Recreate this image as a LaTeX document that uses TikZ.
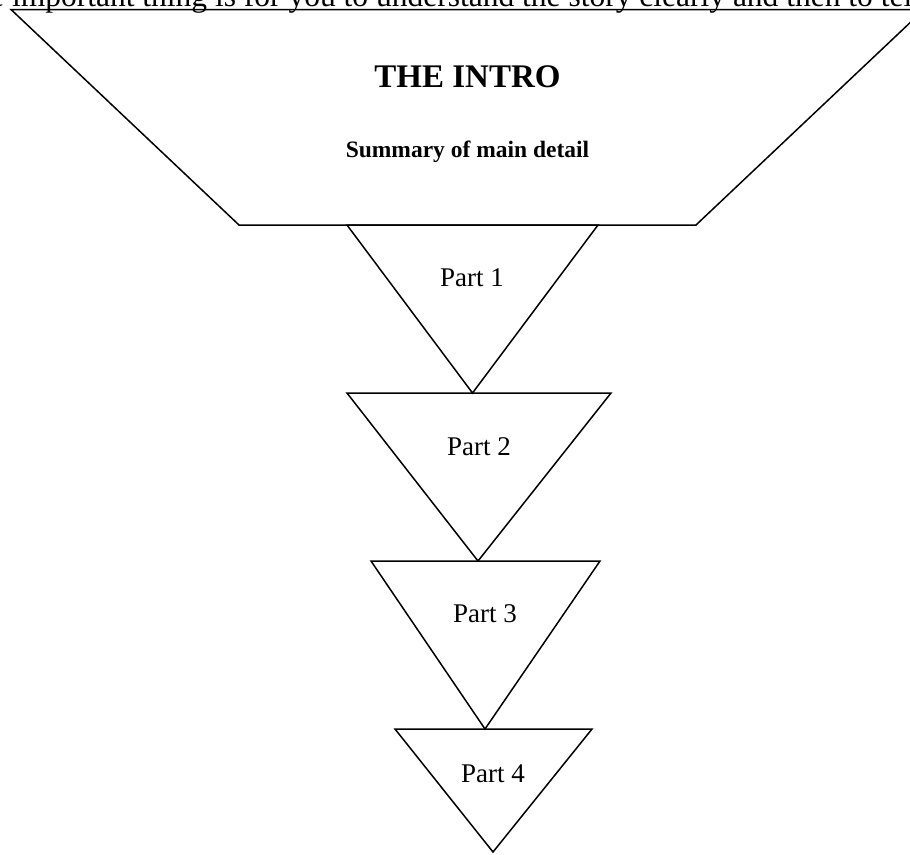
\documentclass[tikz,border=0pt]{standalone}
\usepackage{fontspec}
\setmainfont{Liberation Serif}
\tikzset{
  shapeline/.style={draw=black, line width=1.5pt, line join=miter},
  lbl/.style={anchor=base, inner sep=0pt, font=\fontsize{27}{30}\selectfont},
  headlbl/.style={anchor=base, inner sep=0pt, font=\bfseries\fontsize{33}{36}\selectfont},
  sublbl/.style={anchor=base, inner sep=0pt, font=\bfseries\fontsize{23.5}{27}\selectfont},
  toptext/.style={anchor=base west, inner sep=0pt, font=\fontsize{31.5}{34}\selectfont}
}
\begin{document}
\begin{tikzpicture}[x=1pt,y=-1pt]
\useasboundingbox (0,0) rectangle (910,854);
\clip (0,0) rectangle (910,854);
% clipped running text at the very top
\node[toptext] (top) at (-10,6.5) {e important thing is for you to understand the story clearly and then to tell};
% funnel top (trapezoid)
\coordinate (a1) at (11,9.5);
\coordinate (a2) at (924,9.5);
\coordinate (a3) at (696,225);
\coordinate (a4) at (239,225);
\draw[shapeline] (a1) -- (a2) -- (a3) -- (a4) -- cycle;
% triangles
\coordinate (t1l) at (347,225); \coordinate (t1r) at (598,225); \coordinate (t1b) at (472.5,393);
\coordinate (t2l) at (347,393); \coordinate (t2r) at (611,393); \coordinate (t2b) at (478,561);
\coordinate (t3l) at (371,561); \coordinate (t3r) at (600,561); \coordinate (t3b) at (485,729);
\coordinate (t4l) at (395,729); \coordinate (t4r) at (592,729); \coordinate (t4b) at (493,852);
\draw[shapeline] (t1l) -- (t1r) -- (t1b) -- cycle;
\draw[shapeline] (t2l) -- (t2r) -- (t2b) -- cycle;
\draw[shapeline] (t3l) -- (t3r) -- (t3b) -- cycle;
\draw[shapeline] (t4l) -- (t4r) -- (t4b) -- cycle;
% labels
\node[headlbl] (intro) at (467.5,87.5) {THE INTRO};
\node[sublbl] (summary) at (467.5,157) {Summary of main detail};
\node[lbl] (p1) at (472,286) {Part 1};
\node[lbl] (p2) at (479,455) {Part 2};
\node[lbl] (p3) at (485,622) {Part 3};
\node[lbl] (p4) at (493,782) {Part 4};
\end{tikzpicture}
\end{document}
